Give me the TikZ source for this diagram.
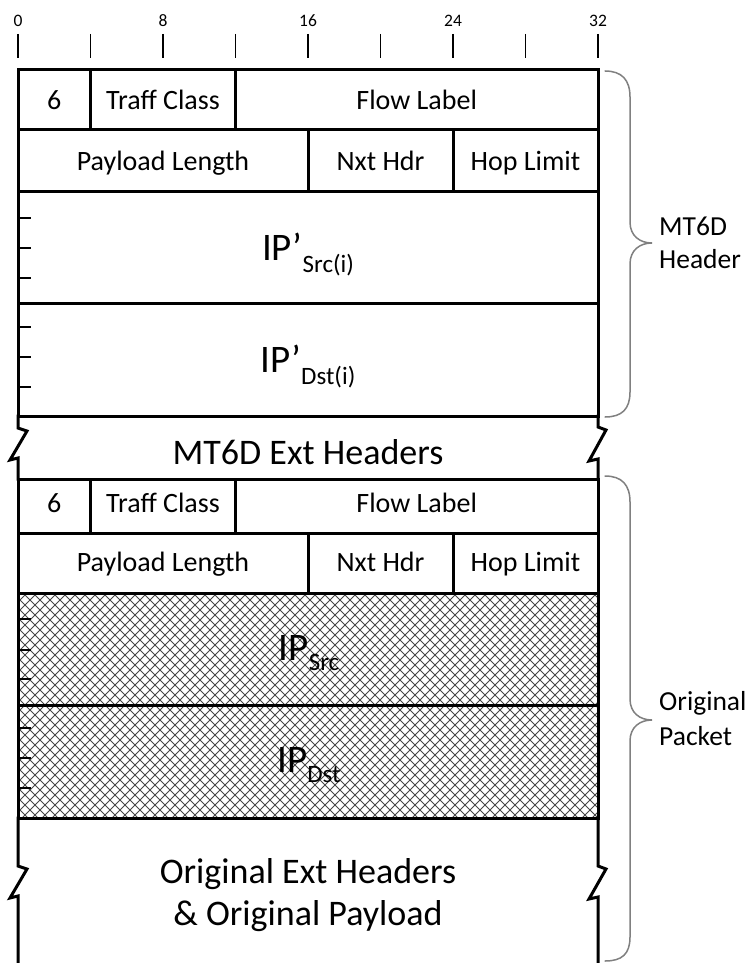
\documentclass[tikz,border=0pt]{standalone}
\usepackage{fontspec}
\setmainfont{Carlito}
\begin{document}
\begin{tikzpicture}[x=1pt,y=-1pt,
  frame/.style={line width=3pt, line join=miter, line cap=rect, black},
  ruletick/.style={line width=1.3pt, black},
  sidetick/.style={line width=1.6pt, black},
  hatchline/.style={line width=0.9pt, black!72},
  bracecurve/.style={line width=1.5pt, black!50, line cap=round},
  rulelabel/.style={inner sep=0pt, anchor=base, font=\fontsize{17.5}{17.5}\selectfont},
  fieldtext/.style={inner sep=0pt, anchor=base, font=\fontsize{28}{28}\selectfont},
  iptext/.style={inner sep=0pt, anchor=base, font=\fontsize{39}{39}\selectfont},
  bigtext/.style={inner sep=0pt, anchor=base, font=\fontsize{36}{36}\selectfont},
  sidelabel/.style={inner sep=0pt, anchor=base west, font=\fontsize{27.5}{27.5}\selectfont}
]
\useasboundingbox[fill=white] (0,0) rectangle (749,963);

% bit ruler
\foreach \k in {0,...,8}
  \draw[ruletick] ({18+72.5*\k},34) -- ({18+72.5*\k},58);
\foreach \b/\k in {0/0,8/2,16/4,24/6,32/8}
  \node[rulelabel] (bit\b) at ({18+72.5*\k},26.5) {\b};

% hatching of the original source and destination addresses
\begin{scope}
  \clip (18,593) rectangle (598,818);
  \foreach \s in {-240,-230,...,600}
    \draw[hatchline] (\s,590) -- ++(232,232);
  \foreach \s in {10,20,...,850}
    \draw[hatchline] (\s,590) -- ++(-232,232);
\end{scope}

% outer MT6D header
\draw[frame] (18,70) rectangle (598,416);
\draw[frame] (18,130) -- (598,130);
\draw[frame] (18,191) -- (598,191);
\draw[frame] (18,303) -- (598,303);
\draw[frame] (90.5,70) -- (90.5,130);
\draw[frame] (235.5,70) -- (235.5,130);
\draw[frame] (308,130) -- (308,191);
\draw[frame] (453,130) -- (453,191);

% extension headers with broken sides
\draw[frame] (18,416) -- (18,428) -- (27,431) -- (10,460) -- (18,458) -- (18,479);
\draw[frame] (598,416) -- (598,427) -- (606,430) -- (589,461) -- (598,459) -- (598,479);

% original IPv6 header
\draw[frame] (18,479) rectangle (598,818);
\draw[frame] (18,533) -- (598,533);
\draw[frame] (18,593) -- (598,593);
\draw[frame] (18,705) -- (598,705);
\draw[frame] (90.5,479) -- (90.5,533);
\draw[frame] (235.5,479) -- (235.5,533);
\draw[frame] (308,533) -- (308,593);
\draw[frame] (453,533) -- (453,593);

% original extension headers and payload
\draw[frame] (18,818) -- (18,866) -- (27,869) -- (10,898) -- (18,896) -- (18,975);
\draw[frame] (598,818) -- (598,866) -- (606,869) -- (589,899) -- (598,897) -- (598,975);

% 32-bit word marks inside the address fields
\foreach \t in {218,248,278,327,357,387,619,650,679,728,758,788}
  \draw[sidetick] (18,\t) -- (31,\t);

% field labels, outer header
\node[fieldtext] (ver1) at (54.25,110) {6};
\node[fieldtext] (tc1) at (163,110) {Traff Class};
\node[fieldtext] (fl1) at (416.75,110) {Flow Label};
\node[fieldtext] (pl1) at (163,170) {Payload Length};
\node[fieldtext] (nh1) at (380.5,170) {Nxt Hdr};
\node[fieldtext] (hl1) at (525.5,170) {Hop Limit};
\node[iptext] (srcnew) at (308,260) {IP’\raisebox{-12pt}{\fontsize{25}{25}\selectfont Src(i)}};
\node[iptext] (dstnew) at (308,372) {IP’\raisebox{-12pt}{\fontsize{25}{25}\selectfont Dst(i)}};
\node[bigtext] (mtext) at (308,464) {MT6D Ext Headers};

% field labels, original header
\node[fieldtext] (ver2) at (54.25,512) {6};
\node[fieldtext] (tc2) at (163,512) {Traff Class};
\node[fieldtext] (fl2) at (416.75,512) {Flow Label};
\node[fieldtext] (pl2) at (163,571) {Payload Length};
\node[fieldtext] (nh2) at (380.5,571) {Nxt Hdr};
\node[fieldtext] (hl2) at (525.5,571) {Hop Limit};
\node[iptext] (srcold) at (309,660) {IP\raisebox{-10pt}{\fontsize{25}{25}\selectfont Src}};
\node[iptext] (dstold) at (309,772) {IP\raisebox{-10pt}{\fontsize{25}{25}\selectfont Dst}};
\node[bigtext] (oext) at (308,883.5) {Original Ext Headers};
\node[bigtext] (opay) at (308,925) {\& Original Payload};

% braces
\draw[bracecurve] (605,71) .. controls (622,71) and (630,80) .. (630,97) -- (630,222)
  .. controls (630,236) and (640,243) .. (652,243)
  .. controls (640,243) and (630,250) .. (630,264) -- (630,392)
  .. controls (630,409) and (622,417) .. (605,417);
\draw[bracecurve] (605,476) .. controls (622,476) and (630,485) .. (630,502) -- (630,699)
  .. controls (630,713) and (640,720) .. (652,720)
  .. controls (640,720) and (630,727) .. (630,741) -- (630,937)
  .. controls (630,954) and (622,961) .. (605,961);

\node[sidelabel] (hdra) at (659,235) {MT6D};
\node[sidelabel] (hdrb) at (659,268) {Header};
\node[sidelabel] (pkta) at (659,710) {Original};
\node[sidelabel] (pktb) at (659,745) {Packet};
\end{tikzpicture}
\end{document}
